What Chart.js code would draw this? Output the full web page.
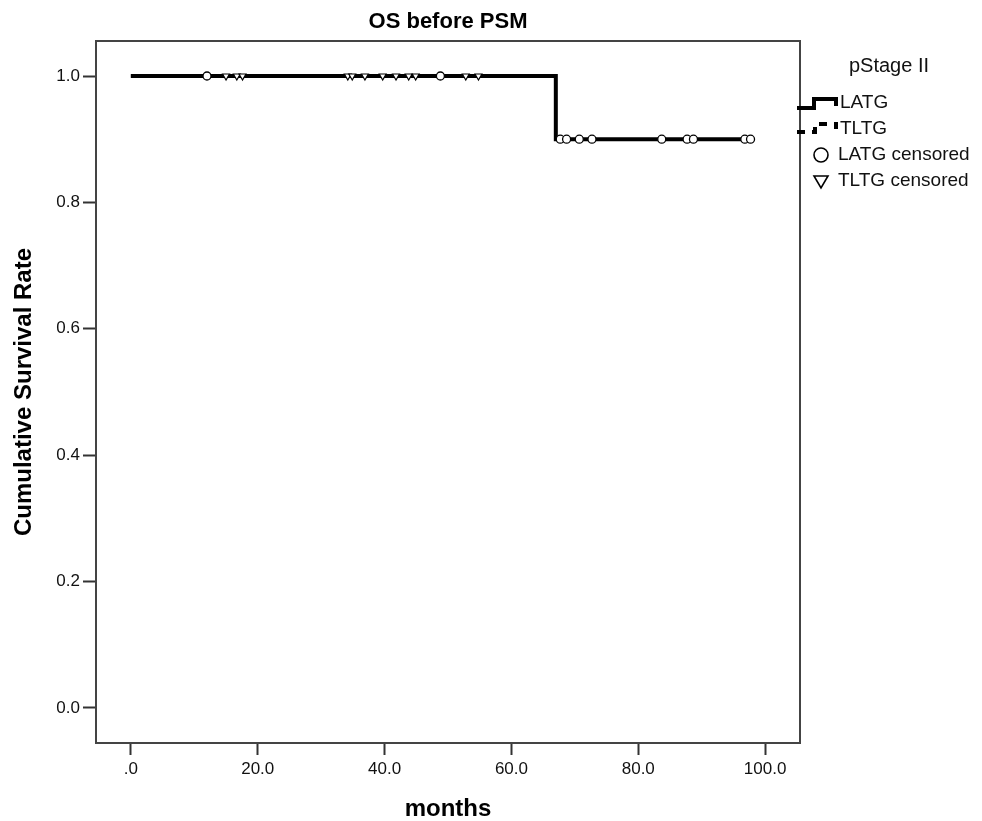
<!DOCTYPE html>
<html>
<head>
<meta charset="utf-8">
<script src="https://cdn.jsdelivr.net/npm/chart.js@4"></script>
<style>
  html, body { margin: 0; padding: 0; background: #fff; }
  #wrap { width: 982px; height: 821px; }
</style>
</head>
<body>
<div id="wrap"><canvas id="kmChart" width="982" height="821"></canvas></div>
<script>
// survival steps (time in months, cumulative survival)
const latgTimes = [0, 67.0, 97.7];
const latgSurv = [1.0, 0.9, 0.9];
const tltgTimes = [0, 54.8];
const tltgSurv = [1.0, 1.0];

// censored cases
const latgCensTimes = [12.0, 48.8, 67.7, 68.7, 70.7, 72.7, 83.7, 87.7, 88.7, 96.8, 97.7];
const latgCensSurv = [1.0, 1.0, 0.9, 0.9, 0.9, 0.9, 0.9, 0.9, 0.9, 0.9, 0.9];
const tltgCensTimes = [15.0, 16.7, 17.6, 34.2, 34.9, 36.9, 39.7, 41.8, 43.8, 44.9, 52.8, 54.8];
const tltgCensSurv = [1.0, 1.0, 1.0, 1.0, 1.0, 1.0, 1.0, 1.0, 1.0, 1.0, 1.0, 1.0];

const xTicks = [0, 20, 40, 60, 80, 100];
const xTickLabels = ['.0', '20.0', '40.0', '60.0', '80.0', '100.0'];
const yTicks = [0, 0.2, 0.4, 0.6, 0.8, 1.0];
const yTickLabels = ['0.0', '0.2', '0.4', '0.6', '0.8', '1.0'];

const legendTitle = 'pStage II';
const seriesNames = ['LATG', 'TLTG', 'LATG censored', 'TLTG censored'];

const FONT = '"Liberation Sans", Arial, sans-serif';

function pts(xs, ys) {
  return xs.map((x, i) => ({ x: x, y: ys[i] }));
}

// box round the plot area (SPSS style frame)
const frameBox = {
  id: 'frameBox',
  beforeDatasetsDraw(chart) {
    const { ctx, chartArea: a } = chart;
    ctx.save();
    ctx.strokeStyle = '#444';
    ctx.lineWidth = 2;
    ctx.strokeRect(a.left, a.top, a.right - a.left, a.bottom - a.top);
    ctx.restore();
  }
};

// legend on the right, drawn by hand to get the step icons
const sideLegend = {
  id: 'sideLegend',
  afterDraw(chart) {
    const ctx = chart.ctx;
    ctx.save();
    ctx.fillStyle = '#111';
    ctx.textBaseline = 'middle';
    ctx.font = '20px ' + FONT;
    ctx.textAlign = 'center';
    ctx.fillText(legendTitle, 889, 66);

    ctx.font = '19px ' + FONT;
    ctx.textAlign = 'left';

    // solid step
    ctx.strokeStyle = '#000';
    ctx.lineWidth = 4;
    ctx.beginPath();
    ctx.moveTo(797, 108); ctx.lineTo(814, 108); ctx.lineTo(814, 99);
    ctx.lineTo(836, 99); ctx.lineTo(836, 106);
    ctx.stroke();
    ctx.fillText(seriesNames[0], 840, 103);

    // dashed step
    ctx.setLineDash([8, 7]);
    ctx.beginPath();
    ctx.moveTo(797, 132); ctx.lineTo(815, 132); ctx.lineTo(815, 124);
    ctx.lineTo(836, 124); ctx.lineTo(836, 129);
    ctx.stroke();
    ctx.setLineDash([]);
    ctx.fillText(seriesNames[1], 840, 129);

    // circle
    ctx.lineWidth = 1.6;
    ctx.beginPath();
    ctx.arc(821, 155, 7, 0, Math.PI * 2);
    ctx.stroke();
    ctx.fillText(seriesNames[2], 838, 155);

    // down triangle
    ctx.beginPath();
    ctx.moveTo(814, 176); ctx.lineTo(828, 176); ctx.lineTo(821, 188);
    ctx.closePath();
    ctx.stroke();
    ctx.fillText(seriesNames[3], 838, 181);
    ctx.restore();
  }
};

const ctx = document.getElementById('kmChart').getContext('2d');

const kmChart = new Chart(ctx, {
  type: 'line',
  data: {
    datasets: [
      {
        label: seriesNames[2],
        data: pts(latgCensTimes, latgCensSurv),
        showLine: false,
        pointStyle: 'circle',
        pointRadius: 4,
        pointBackgroundColor: '#fff',
        pointBorderColor: '#000',
        pointBorderWidth: 1.3,
        order: 0
      },
      {
        label: seriesNames[3],
        data: pts(tltgCensTimes, tltgCensSurv),
        showLine: false,
        pointStyle: 'triangle',
        rotation: 180,
        pointRadius: 4,
        pointBackgroundColor: '#fff',
        pointBorderColor: '#000',
        pointBorderWidth: 1.2,
        order: 0
      },
      {
        label: seriesNames[0],
        data: pts(latgTimes, latgSurv),
        stepped: 'before',
        borderColor: '#000',
        borderWidth: 4,
        pointRadius: 0,
        fill: false,
        order: 1
      },
      {
        label: seriesNames[1],
        data: pts(tltgTimes, tltgSurv),
        stepped: 'before',
        borderColor: '#000',
        borderWidth: 3.5,
        borderDash: [10, 6],
        pointRadius: 0,
        fill: false,
        order: 2
      }
    ]
  },
  options: {
    responsive: false,
    animation: false,
    events: [],
    layout: {
      padding: { left: 0, right: 182, top: 0, bottom: 0 }
    },
    scales: {
      x: {
        type: 'linear',
        min: -5.5,
        max: 105.5,
        afterBuildTicks: (scale) => { scale.ticks = xTicks.map(v => ({ value: v })); },
        afterFit: (scale) => { scale.height = 78; },
        ticks: {
          autoSkip: false,
          maxRotation: 0,
          padding: 4,
          color: '#111',
          font: { family: FONT, size: 17 },
          callback: (v, i) => xTickLabels[i]
        },
        grid: { drawOnChartArea: false, drawTicks: true, tickLength: 12, tickWidth: 2, tickColor: '#333' },
        border: { display: true, color: '#444', width: 2 },
        title: {
          display: true,
          text: 'months',
          color: '#000',
          font: { family: FONT, size: 24, weight: 'bold' },
          padding: { top: 0, bottom: -3 }
        }
      },
      y: {
        type: 'linear',
        min: -0.0554,
        max: 1.0554,
        afterBuildTicks: (scale) => { scale.ticks = yTicks.map(v => ({ value: v })); },
        afterFit: (scale) => { scale.width = 96; },
        ticks: {
          autoSkip: false,
          padding: 3,
          color: '#111',
          font: { family: FONT, size: 17 },
          callback: (v, i) => yTickLabels[i]
        },
        grid: { drawOnChartArea: false, drawTicks: true, tickLength: 13, tickWidth: 2, tickColor: '#333' },
        border: { display: true, color: '#444', width: 2 },
        title: {
          display: true,
          text: 'Cumulative Survival Rate',
          color: '#000',
          font: { family: FONT, size: 24, weight: 'bold' },
          padding: { top: 10, bottom: 0 }
        }
      }
    },
    plugins: {
      legend: { display: false },
      tooltip: { enabled: false },
      title: {
        display: true,
        text: 'OS before PSM',
        fullSize: false,
        color: '#000',
        font: { family: FONT, size: 22, weight: 'bold' },
        padding: { top: 9, bottom: 5.6 }
      }
    }
  },
  plugins: [frameBox, sideLegend]
});
</script>
</body>
</html>
